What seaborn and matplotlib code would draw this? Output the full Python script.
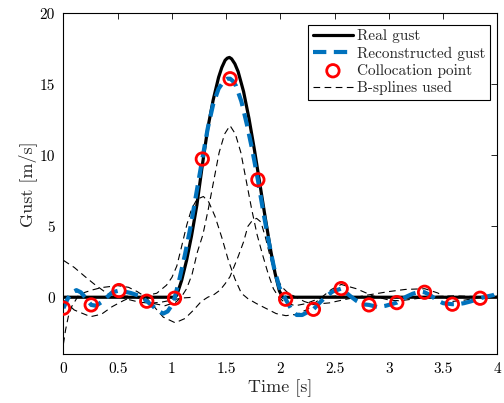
import numpy as np
import pandas as pd
import matplotlib
matplotlib.use("Agg")
import matplotlib.pyplot as plt
import seaborn as sns

# ---------------- data ----------------
real_x = [0, 1.03, 1.045, 1.09, 1.135, 1.18, 1.23, 1.28, 1.33, 1.38, 1.43, 1.46, 1.49,
          1.51, 1.53, 1.55, 1.58, 1.61, 1.66, 1.71, 1.76, 1.81, 1.86, 1.91, 1.95, 1.99,
          2.02, 4.0]
real_y = [0, 0, 0.15, 1.2, 2.6, 4.3, 6.5, 9.3, 11.9, 13.9, 15.5, 16.2, 16.7,
          16.85, 16.9, 16.8, 16.45, 15.9, 14.5, 12.6, 10.4, 8.0, 5.6, 3.3, 1.7, 0.45,
          0, 0]

recon_x = [0, 0.04, 0.08, 0.12, 0.16, 0.2, 0.256, 0.3, 0.35, 0.4, 0.45, 0.512, 0.56, 0.62,
           0.7, 0.768, 0.82, 0.87, 0.92, 0.96, 1.0, 1.024, 1.07, 1.12, 1.17, 1.22, 1.28,
           1.33, 1.38, 1.43, 1.48, 1.51, 1.536, 1.56, 1.59, 1.64, 1.69, 1.74, 1.792, 1.84,
           1.89, 1.94, 1.99, 2.048, 2.1, 2.15, 2.2, 2.25, 2.304, 2.36, 2.42, 2.48, 2.56,
           2.64, 2.7, 2.76, 2.816, 2.9, 2.97, 3.04, 3.072, 3.12, 3.16, 3.22, 3.29, 3.328,
           3.38, 3.44, 3.5, 3.584, 3.65, 3.69, 3.75, 3.81, 3.84, 3.9, 3.96, 4.0]
recon_y = [-0.77, -0.1, 0.35, 0.5, 0.35, 0.0, -0.54, -0.6, -0.35, 0.0, 0.35, 0.47, 0.4, 0.3,
           0.1, -0.28, -0.6, -0.95, -1.15, -1.0, -0.55, -0.07, 1.3, 3.0, 4.9, 7.1, 9.74,
           11.9, 13.6, 14.7, 15.25, 15.4, 15.4, 15.25, 14.9, 13.8, 12.2, 10.4, 8.28, 6.1,
           4.0, 2.1, 0.7, -0.14, -0.85, -1.25, -1.25, -1.05, -0.85, -0.4, 0.05, 0.4, 0.61,
           0.1, -0.25, -0.5, -0.54, -0.7, -0.6, -0.45, -0.38, -0.15, 0.04, 0.25, 0.4, 0.35,
           0.15, -0.2, -0.42, -0.49, -0.47, -0.42, -0.3, -0.15, -0.07, 0.05, 0.15, 0.3]

colloc_x = [0, 0.256, 0.512, 0.768, 1.024, 1.28, 1.536, 1.792, 2.048, 2.304, 2.56,
            2.816, 3.072, 3.328, 3.584, 3.84]
colloc_y = [-0.77, -0.54, 0.47, -0.28, -0.07, 9.74, 15.4, 8.28, -0.14, -0.85, 0.61,
            -0.54, -0.38, 0.35, -0.49, -0.07]

bsA_x = [0, 0.1, 0.2, 0.28, 0.4, 0.52, 0.61, 0.7, 0.8, 0.9, 1.0, 1.1, 1.2]
bsA_y = [2.6, 2.1, 1.45, 0.95, 0.28, 0.04, -0.18, -0.35, -0.42, -0.35, -0.2, -0.05, 0.0]

bsB_x = [0, 0.02, 0.045, 0.076, 0.137, 0.2, 0.26, 0.35, 0.5, 0.6, 0.68, 0.76, 0.84, 0.92,
         1.03, 1.12, 1.2, 1.27, 1.33, 1.39, 1.443, 1.49, 1.535, 1.61, 1.66, 1.70, 1.74,
         1.78, 1.82, 1.86, 1.92, 1.96, 2.01, 2.07, 2.135, 2.22, 2.3, 2.45, 2.6, 2.8, 3.0,
         3.15, 3.33, 3.45, 3.58, 3.7, 3.85, 4.0]
bsB_y = [-3.3, -2.3, -1.37, -0.66, 0.1, 0.35, 0.5, 0.68, 0.82, 0.7, 0.4, 0.0, -0.7, -1.4,
         -1.8, -1.5, -0.9, -0.3, 0.0, 0.2, 0.5, 0.95, 1.45, 2.86, 3.9, 5.0, 5.4, 5.56, 5.3,
         4.27, 2.4, 1.5, 0.75, 0.3, 0.04, -0.3, -0.5, -0.4, -0.15, 0.15, 0.4, 0.55, 0.6,
         0.3, -0.3, -0.2, 0.0, 0.1]

bsC_x = [0, 0.1, 0.25, 0.35, 0.45, 0.55, 0.62, 0.75, 0.86, 0.95, 1.0, 1.045, 1.09, 1.137,
         1.18, 1.23, 1.29, 1.34, 1.397, 1.46, 1.52, 1.58, 1.64, 1.7, 1.78, 1.87, 1.96,
         2.05, 2.15, 2.25, 2.38, 2.47, 2.56, 2.7, 2.85, 3.0, 3.1, 3.25, 3.4, 3.6, 4.0]
bsC_y = [-0.2, -0.9, -1.37, -1.2, -0.66, -0.25, 0.0, 0.1, 0.28, 0.85, 1.4, 2.2, 3.6, 5.1,
         6.2, 6.9, 7.1, 6.7, 5.7, 4.2, 2.6, 1.3, 0.28, -0.1, -0.45, -0.8, -1.15, -1.3,
         -1.2, -0.85, 0.0, 0.55, 0.9, 0.6, 0.1, -0.2, -0.25, -0.1, 0.05, 0.1, 0.0]

bsD_x = [0.535, 0.635, 0.735, 0.835, 0.935, 1.035, 1.085, 1.135, 1.185, 1.235,
         1.285, 1.335, 1.385, 1.435, 1.485, 1.535, 1.585, 1.635, 1.685, 1.735, 1.785,
         1.835, 1.885, 1.935, 1.985, 2.035, 2.135, 2.235, 2.335, 2.435, 2.535, 2.735]
bsD_y = [0.1, 0.05, -0.15, -0.45, -0.6, -0.35, 0.0, 0.6, 1.6, 3.2, 4.4, 6.2, 8.2,
         10.2, 11.5, 12.1, 11.5, 10.2, 8.2, 6.2, 4.4, 3.0, 1.7, 0.6, 0.0, -0.35, -0.6,
         -0.45, -0.15, 0.05, 0.1, 0.0]

x_ticks = [0, 0.5, 1, 1.5, 2, 2.5, 3, 3.5, 4]
x_ticklabels = ["0", "0.5", "1", "1.5", "2", "2.5", "3", "3.5", "4"]
y_ticks = [0, 5, 10, 15, 20]
y_ticklabels = ["0", "5", "10", "15", "20"]

# ---------------- style ----------------
sns.set_style("white")
plt.rcParams["font.family"] = ["cmr10", "DejaVu Serif"]
plt.rcParams["axes.unicode_minus"] = False
plt.rcParams["axes.formatter.use_mathtext"] = True
plt.rcParams["lines.solid_joinstyle"] = "round"
plt.rcParams["lines.dash_joinstyle"] = "round"

fig = plt.figure(figsize=(5.04, 4.03), dpi=100)
ax = fig.add_axes([0.1258, 0.1216, 0.8613, 0.845])

spline_ls = (0, (6, 4))
for i, (bx, by) in enumerate([(bsA_x, bsA_y), (bsB_x, bsB_y), (bsC_x, bsC_y), (bsD_x, bsD_y)]):
    sns.lineplot(x=bx, y=by, ax=ax, color="black", linewidth=0.8, linestyle=spline_ls,
                 sort=False, estimator=None, label="B-splines used" if i == 0 else "_nolegend_")

sns.lineplot(x=real_x, y=real_y, ax=ax, color="black", linewidth=2.3, sort=False,
             estimator=None, label="Real gust")
sns.lineplot(x=recon_x, y=recon_y, ax=ax, color="#0072BD", linewidth=3.0,
             linestyle=(0, (3.2, 1.8)), sort=False, estimator=None, label="Reconstructed gust")
sns.scatterplot(x=colloc_x, y=colloc_y, ax=ax, marker="o", s=80, facecolors="none",
                edgecolors="red", linewidths=2.0, label="Collocation point", zorder=5)

ax.set_xlim(0, 4)
ax.set_ylim(-4, 20)
ax.set_xticks(x_ticks)
ax.set_xticklabels(x_ticklabels)
ax.set_yticks(y_ticks)
ax.set_yticklabels(y_ticklabels)
ax.tick_params(direction="in", top=True, right=True, length=4, width=0.6,
               labelsize=11, colors="black", pad=6)
for s in ax.spines.values():
    s.set_linewidth(0.8)
    s.set_color("black")
ax.set_xlabel("Time [s]", fontsize=13, labelpad=2)
ax.set_ylabel("Gust [m/s]", fontsize=13, labelpad=2)

handles, labels = ax.get_legend_handles_labels()
order = ["Real gust", "Reconstructed gust", "Collocation point", "B-splines used"]
hmap = dict(zip(labels, handles))
leg = ax.legend([hmap[k] for k in order], order, loc="upper right",
                bbox_to_anchor=(0.9835, 0.9665), fontsize=11, frameon=True, fancybox=False,
                edgecolor="black", framealpha=1, handlelength=2.6, handletextpad=0.3,
                labelspacing=0.2, borderpad=0.3, borderaxespad=0.0)
leg.get_frame().set_linewidth(0.8)

fig.savefig("out.png", dpi=100)
